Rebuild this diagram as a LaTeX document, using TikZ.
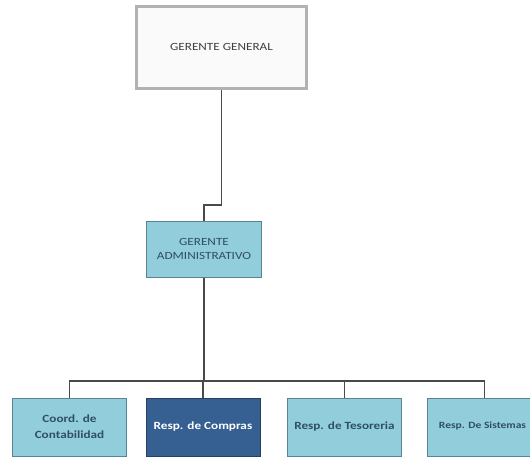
\documentclass[tikz,border=0pt]{standalone}
\usepackage{fontspec}
\setmainfont{Carlito}[FakeStretch=1.2]
\definecolor{boxblue}{HTML}{92CDDC}
\definecolor{boxedge}{HTML}{5B8397}
\definecolor{darkblue}{HTML}{376092}
\definecolor{darkedge}{HTML}{244062}
\definecolor{textblue}{HTML}{2E4F66}
\definecolor{linegray}{HTML}{4A4A4A}
% text lifted (or lowered) inside its box
\newcommand{\boxtext}[2]{\raisebox{#1}{\begin{tabular}{@{}c@{}}#2\end{tabular}}}

\begin{document}
\begin{tikzpicture}[x=1pt, y=-1pt,
  topbox/.style={draw=gray!60, line width=2.5pt, fill=gray!4, minimum width=170pt, minimum height=82pt, font=\fontsize{11}{13.5}\selectfont, text=black!75},
  adminbox/.style={draw=boxedge, line width=1pt, fill=boxblue, minimum width=115pt, minimum height=56pt, font=\fontsize{11}{13.5}\selectfont, text=textblue},
  unitbox/.style={draw=boxedge, line width=1pt, fill=boxblue, minimum width=114pt, minimum height=58pt, font=\fontsize{11}{13.5}\selectfont\bfseries, text=textblue},
  darkbox/.style={unitbox, draw=darkedge, fill=darkblue, text=white},
  link/.style={draw=linegray, line width=1.2pt}]
\useasboundingbox (0,0) rectangle (530,458);
\clip (0,0) rectangle (530,458);

% Boxes
\node[topbox] (gg) at (221.5,47.5) {\boxtext{-9pt}{GERENTE GENERAL}};
\node[adminbox] (ga) at (204,249.5) {\boxtext{9pt}{GERENTE\\[0.5pt] ADMINISTRATIVO}};
\node[unitbox] (coord) at (69.5,427.5) {\boxtext{-9.5pt}{Coord. de\\[2.5pt] Contabilidad}};
\node[darkbox] (compras) at (203,427.5) {\boxtext{6pt}{Resp. de Compras}};
\node[unitbox] (tesoreria) at (344.5,427.5) {\boxtext{6pt}{Resp. de Tesoreria}};
\node[unitbox, font=\fontsize{9.6}{12}\selectfont\bfseries] (sistemas) at (484.5,427.5) {\boxtext{6pt}{\hspace*{-4pt}Resp. De Sistemas}};

% Connectors
\coordinate (elbow) at (204,205);
\coordinate (bus) at (204,381);
\draw[link] (gg.south) |- (elbow) -- (ga.north);
\draw[link] (ga.south) -- (bus);
\foreach \unit in {coord,compras,tesoreria,sistemas}
  \draw[link] (bus) -| (\unit.north);
\end{tikzpicture}
\end{document}
